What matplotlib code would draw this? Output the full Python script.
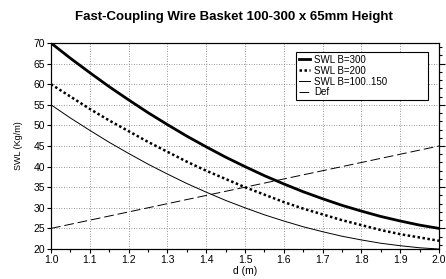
import matplotlib
matplotlib.use("Agg")
import matplotlib.pyplot as plt
from matplotlib.ticker import MultipleLocator

plt.rcParams.update({'font.family': ['Liberation Sans', 'DejaVu Sans'],
                     'font.size': 7.5})

d = [1.0, 1.05, 1.1, 1.15, 1.2, 1.25, 1.3, 1.35, 1.4, 1.45, 1.5,
     1.55, 1.6, 1.65, 1.7, 1.75, 1.8, 1.85, 1.9, 1.95, 2.0]
swl_300 = [70, 66.3, 62.8, 59.4, 56.2, 53.1, 50.2, 47.4, 44.8, 42.3, 40,
           37.8, 35.8, 33.9, 32.2, 30.6, 29.2, 27.9, 26.8, 25.8, 25]
swl_200 = [60, 57.0, 54.0, 51.2, 48.6, 46.0, 43.6, 41.2, 39.0, 37.0, 35,
           33.2, 31.4, 29.8, 28.4, 27.0, 25.8, 24.6, 23.6, 22.8, 22]
swl_150 = [55, 51.8, 48.8, 45.9, 43.2, 40.6, 38.2, 35.9, 33.8, 31.8, 30,
           28.3, 26.8, 25.4, 24.2, 23.1, 22.2, 21.4, 20.8, 20.3, 20]
def_d = [1.0, 2.0]
def_v = [25, 45]

fig = plt.figure(figsize=(4.46, 2.79), dpi=100)
ax = fig.add_axes([0.1143, 0.1075, 0.87, 0.7384])

ax.plot(d, swl_300, color='black', lw=2.0, label='SWL B=300')
ax.plot(d, swl_200, color='black', lw=1.8, ls=(0, (1, 1)), label='SWL B=200')
ax.plot(d, swl_150, color='black', lw=0.7, label='SWL B=100..150')
ax.plot(def_d, def_v, color='black', lw=0.7, ls=(0, (10, 4)), label='Def')

ax.set_xlim(1.0, 2.0)
ax.set_ylim(20, 70)
ax.xaxis.set_major_locator(MultipleLocator(0.1))
ax.xaxis.set_minor_locator(MultipleLocator(0.05))
ax.yaxis.set_major_locator(MultipleLocator(5))
ax.tick_params(which='both', direction='out', length=3, width=0.8, pad=1)
ax.tick_params(which='minor', length=2)
ax.grid(True, which='major', ls=(0, (1, 2)), color='#777777', lw=0.6)

for s in ax.spines.values():
    s.set_linewidth(0.8)

# right-hand scale (its labels fall outside the picture)
ax2 = ax.twinx()
ax2.set_ylim(20, 70)
ax2.set_yticks([25, 35, 45, 55, 65])
ax2.set_yticks([21, 23, 27, 29, 31, 33, 37, 39, 41, 43, 47, 49, 51, 53,
                57, 59, 61, 63, 67, 69], minor=True)
ax2.tick_params(which='both', direction='out', length=4, width=0.8,
                labelright=False)
ax2.tick_params(which='minor', length=2)

ax.set_xlabel('d (m)', fontsize=7.5, labelpad=1)
ax.set_ylabel('SWL (Kg/m)', fontsize=6.5, labelpad=8)
fig.text(0.5235, 0.94, 'Fast-Coupling Wire Basket 100-300 x 65mm Height',
         ha='center', va='center', fontsize=9.5, fontweight='bold')

leg = ax.legend(loc='upper left', bbox_to_anchor=(0.631, 0.5, 0.34, 0.458),
                mode='expand', fontsize=7, handlelength=1.2,
                handletextpad=0.4, labelspacing=0.1, borderpad=0.3,
                borderaxespad=0, fancybox=False, framealpha=1,
                edgecolor='black')
leg.get_frame().set_linewidth(0.8)

fig.savefig('out.png', dpi=100)
